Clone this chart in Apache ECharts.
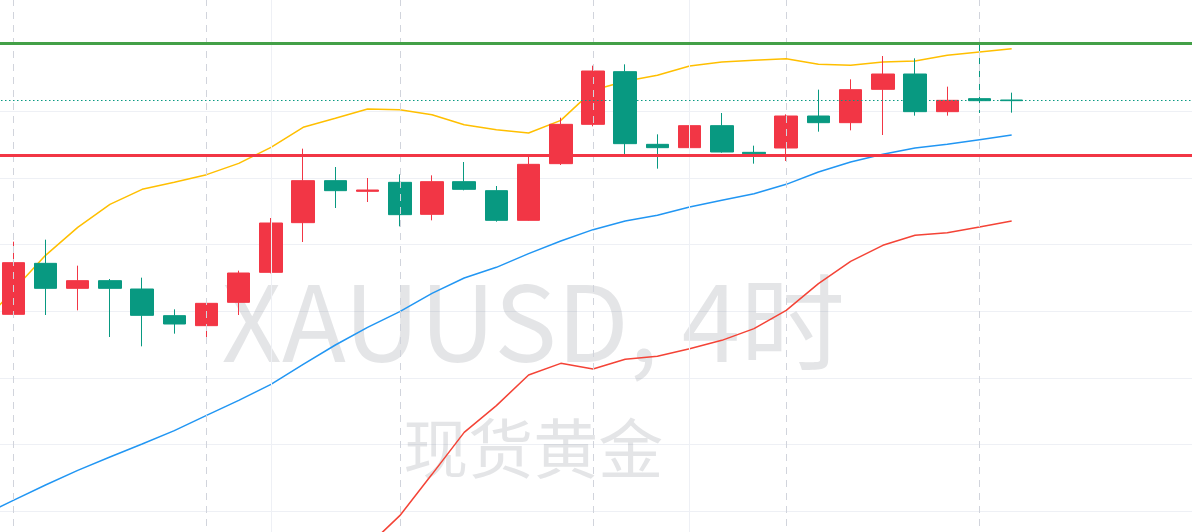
<!DOCTYPE html>
<html>
<head>
<meta charset="utf-8">
<script src="https://cdn.jsdelivr.net/npm/echarts@6/dist/echarts.min.js"></script>
<style>
html,body{margin:0;padding:0;background:#ffffff;width:1192px;height:532px;overflow:hidden;position:relative;}
#chart{position:absolute;left:-35.2px;top:-22.4px;width:1255.8px;height:600px;}
</style>
</head>
<body>
<div id="chart"></div>
<script>
// Bar slots (4h bars); first slot is an off-screen lead-in, last ones are empty future space
const categories = ['0','1','2','3','4','5','6','7','8','9','10','11','12','13','14','15','16','17','18','19',
  '20','21','22','23','24','25','26','27','28','29','30','31','32','33','34','35','36','37','38'];

// [open, close, low, high]
const candles = [
  '-',
  [2639.55, 2647.30, 2639.25, 2650.45],
  [2647.20, 2643.45, 2639.45, 2650.75],
  [2643.45, 2644.60, 2640.15, 2646.85],
  [2644.60, 2643.45, 2636.15, 2644.85],
  [2643.35, 2639.40, 2634.75, 2645.05],
  [2639.35, 2638.10, 2636.65, 2640.30],
  [2637.85, 2641.20, 2636.05, 2641.80],
  [2641.35, 2645.75, 2639.45, 2646.10],
  [2645.85, 2653.25, 2645.70, 2654.00],
  [2653.30, 2659.60, 2650.40, 2664.40],
  [2659.60, 2658.10, 2655.50, 2661.65],
  [2658.00, 2658.20, 2656.40, 2660.00],
  [2659.35, 2654.50, 2652.75, 2660.55],
  [2654.55, 2659.45, 2653.65, 2660.40],
  [2659.45, 2658.30, 2658.15, 2662.40],
  [2658.10, 2653.65, 2653.45, 2658.80],
  [2653.65, 2662.05, 2653.60, 2663.15],
  [2662.15, 2668.05, 2661.95, 2669.05],
  [2668.05, 2676.05, 2667.75, 2676.85],
  [2675.95, 2665.15, 2663.55, 2677.05],
  [2665.05, 2664.55, 2661.40, 2666.55],
  [2664.55, 2667.85, 2664.35, 2670.85],
  [2667.85, 2663.90, 2663.80, 2669.75],
  [2663.85, 2663.65, 2662.15, 2664.85],
  [2664.50, 2669.30, 2662.55, 2669.55],
  [2669.30, 2668.30, 2666.95, 2673.25],
  [2668.30, 2673.25, 2667.15, 2674.80],
  [2673.30, 2675.60, 2666.45, 2678.30],
  [2675.60, 2669.95, 2669.35, 2677.95],
  [2669.95, 2671.65, 2669.35, 2673.70],
  [2671.90, 2671.60, 2669.75, 2680.00],
  [2671.70, 2671.60, 2669.80, 2672.80]
];

const maYellow = [2637.95, 2643.15, 2648.40, 2652.60, 2656.05, 2658.30, 2659.35, 2660.50, 2662.20, 2664.60,
  2667.60, 2668.95, 2670.35, 2670.25, 2669.50, 2668.00, 2667.25, 2666.75, 2668.65, 2673.15,
  2674.50, 2675.40, 2676.80, 2677.40, 2677.65, 2677.90, 2677.05, 2676.90, 2677.40, 2677.55,
  2678.40, 2678.90, 2679.40];

const maBlue = [2609.30, 2611.65, 2613.95, 2616.15, 2618.15, 2620.10, 2622.10, 2624.40, 2626.65, 2629.05,
  2632.05, 2634.95, 2637.60, 2639.95, 2642.70, 2645.00, 2646.60, 2648.65, 2650.55, 2652.25,
  2653.55, 2654.40, 2655.65, 2656.65, 2657.65, 2659.05, 2660.90, 2662.40, 2663.55, 2664.50,
  2665.05, 2665.75, 2666.45];

const maRed = ['-', '-', '-', '-', '-', '-', '-', '-', '-', '-', '-', '-',
  2604.75, 2609.35, 2615.55, 2621.85, 2625.85, 2630.45, 2632.20, 2631.35, 2632.80,
  2633.25, 2634.40, 2635.65, 2637.40, 2640.15, 2644.15, 2647.50, 2649.90, 2651.40,
  2651.80, 2652.65, 2653.55];

const resistanceLevel = 2680.25;
const supportLevel = 2663.35;
const lastPrice = 2671.6;
const daySeparators = [1, 7, 13, 19, 25, 31];
const weekSeparators = [9, 22];
const watermarkMain = 'XAUUSD, 4时';
const watermarkSub = '现货黄金';

const chart = echarts.init(document.getElementById('chart'), null, {renderer: 'canvas'});

const vLines = daySeparators.map(i => ({xAxis: i, lineStyle: {color: '#D1D4DC', width: 1, type: [7, 6]}}))
  .concat(weekSeparators.map(i => ({xAxis: i, lineStyle: {color: '#EEF0F5', width: 1, type: 'solid'}})));

chart.setOption({
  animation: false,
  backgroundColor: '#ffffff',
  grid: {left: 0, right: 0, top: 0, bottom: 0, containLabel: false},
  graphic: [
    {type: 'text', z: 1, silent: true,
      style: {x: 568.2, y: 343.6, text: watermarkMain, fontSize: 105, fontFamily: '"Noto Sans CJK SC", "Noto Sans", sans-serif',
        fill: 'rgba(120,123,134,0.2)', align: 'center', verticalAlign: 'middle'}},
    {type: 'text', z: 1, silent: true,
      style: {x: 568.2, y: 470.4, text: watermarkSub, fontSize: 65, fontFamily: '"Noto Sans CJK SC", sans-serif',
        fill: 'rgba(120,123,134,0.2)', align: 'center', verticalAlign: 'middle'}}
  ],
  xAxis: {
    type: 'category', data: categories, boundaryGap: true,
    axisLine: {show: false}, axisTick: {show: false}, axisLabel: {show: false}, splitLine: {show: false}
  },
  yAxis: {
    type: 'value', min: 2600, max: 2690, interval: 10,
    axisLine: {show: false}, axisTick: {show: false}, axisLabel: {show: false},
    splitLine: {show: true, lineStyle: {color: '#EEF0F5', width: 1}}
  },
  series: [
    {
      type: 'line', data: [], z: 0, silent: true,
      markLine: {silent: true, symbol: ['none', 'none'], label: {show: false}, animation: false, data: vLines}
    },
    {
      type: 'line', data: maYellow, showSymbol: false, z: 2, silent: true,
      lineStyle: {color: '#FFBF00', width: 1.5}
    },
    {
      type: 'line', data: maBlue, showSymbol: false, z: 2, silent: true,
      lineStyle: {color: '#2196F3', width: 1.5}
    },
    {
      type: 'line', data: maRed, showSymbol: false, z: 2, silent: true,
      lineStyle: {color: '#F44336', width: 1.5}
    },
    {
      type: 'candlestick', data: candles, barWidth: 23, z: 3,
      itemStyle: {color: '#F23645', color0: '#089981', borderColor: '#F23645', borderColor0: '#089981', borderWidth: 1}
    },
    {
      type: 'line', data: [], z: 5, silent: true,
      markLine: {
        silent: true, symbol: ['none', 'none'], label: {show: false}, animation: false,
        data: [
          {yAxis: lastPrice, lineStyle: {color: '#089981', width: 1, type: [1.5, 2.5]}},
          {yAxis: resistanceLevel, lineStyle: {color: '#43A047', width: 3, type: 'solid'}},
          {yAxis: supportLevel, lineStyle: {color: '#F23645', width: 3, type: 'solid'}}
        ]
      }
    }
  ]
});
</script>
</body>
</html>
